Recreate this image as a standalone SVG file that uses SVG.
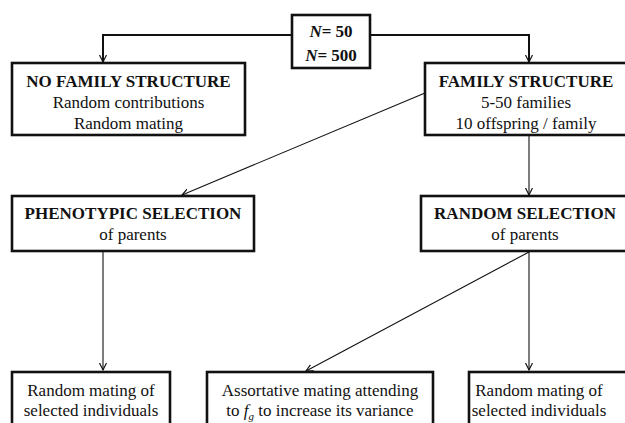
<svg xmlns="http://www.w3.org/2000/svg" width="625" height="423" viewBox="0 0 625 423">
<defs>
<style>
.box{fill:#fff;stroke:#111;stroke-width:2.6}
text{font-family:"Liberation Serif","Times New Roman",serif;font-size:17px;fill:#111;text-anchor:middle}
.b{font-weight:bold}
.c{fill:none;stroke:#111;stroke-width:1.1}
.t{fill:none;stroke:#111;stroke-width:2}
</style>
<marker id="ar" markerWidth="10" markerHeight="10" refX="7" refY="4" orient="auto" markerUnits="userSpaceOnUse">
<path d="M0,0.5 L7,4 L0,7.5" fill="none" stroke="#111" stroke-width="1.2"/>
</marker>
</defs>
<rect width="625" height="423" fill="#fff"/>
<g id="connectors">
<path class="t" d="M292,35 H103 V62" marker-end="url(#ar)"/>
<path class="t" d="M370,35 H529 V62" marker-end="url(#ar)"/>
<path class="c" d="M425,93 L182,195" marker-end="url(#ar)"/>
<path class="c" d="M529,136 V195" marker-end="url(#ar)"/>
<path class="c" d="M103,252 V370" marker-end="url(#ar)"/>
<path class="c" d="M529,252 L306,371" marker-end="url(#ar)"/>
<path class="c" d="M529,252 V370" marker-end="url(#ar)"/>
</g>
<g id="n_top">
<rect class="box" x="292" y="15" width="78" height="53"/>
<text x="331" y="37" class="b"><tspan font-style="italic">N</tspan>= 50</text>
<text x="331" y="61" class="b"><tspan font-style="italic">N</tspan>= 500</text>
</g>
<g id="n_nofamily">
<rect class="box" x="12" y="63" width="233" height="72"/>
<text x="128.5" y="87" class="b">NO FAMILY STRUCTURE</text>
<text x="128.5" y="108">Random contributions</text>
<text x="128.5" y="129">Random mating</text>
</g>
<g id="n_family">
<rect class="box" x="425" y="63" width="205" height="72"/>
<text x="526" y="87" class="b">FAMILY STRUCTURE</text>
<text x="526" y="108">5-50 families</text>
<text x="526" y="129">10 offspring / family</text>
</g>
<g id="n_pheno">
<rect class="box" x="12" y="196" width="242" height="55"/>
<text x="133" y="219" class="b">PHENOTYPIC SELECTION</text>
<text x="133" y="240">of parents</text>
</g>
<g id="n_random">
<rect class="box" x="421" y="196" width="210" height="55"/>
<text x="525" y="219" class="b">RANDOM SELECTION</text>
<text x="525" y="240">of parents</text>
</g>
<g id="n_mate1">
<rect class="box" x="12" y="372" width="158" height="60"/>
<text x="91" y="396">Random mating of</text>
<text x="91" y="416">selected individuals</text>
</g>
<g id="n_assort">
<rect class="box" x="207" y="372" width="226" height="60"/>
<text x="320" y="396">Assortative mating attending</text>
<text x="320" y="416">to <tspan font-style="italic">f</tspan><tspan font-style="italic" font-size="11" dy="4">g</tspan><tspan dy="-4"> to increase its variance</tspan></text>
</g>
<g id="n_mate2">
<rect class="box" x="469" y="372" width="160" height="60"/>
<text x="539" y="396">Random mating of</text>
<text x="539" y="416">selected individuals</text>
</g>
</svg>
